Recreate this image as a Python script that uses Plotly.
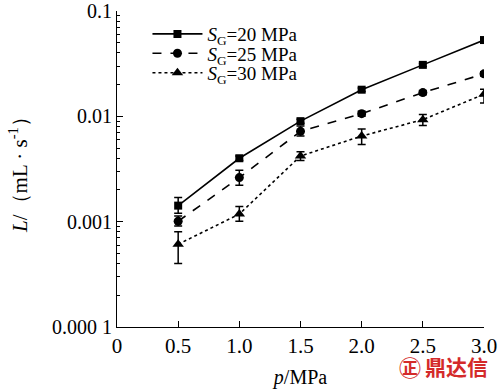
import plotly.graph_objects as go

p = [0.5, 1.0, 1.5, 2.0, 2.5, 3.0]

L_20 = [0.00142, 0.0040, 0.0090, 0.0179, 0.0308, 0.053]
err_20_plus = [0.00028, 0.0002, 0.0004, 0.0007, 0.0010, 0.0015]
err_20_minus = [0.00022, 0.0002, 0.0004, 0.0007, 0.0010, 0.0015]

L_25 = [0.00101, 0.00262, 0.0072, 0.0106, 0.0168, 0.0253]
err_25_plus = [0.00012, 0.00045, 0.0009, 0.0006, 0.0008, 0.0012]
err_25_minus = [0.00010, 0.00040, 0.0007, 0.0006, 0.0008, 0.0012]

L_30 = [0.00061, 0.00118, 0.0042, 0.0065, 0.0093, 0.0162]
err_30_plus = [0.00019, 0.00021, 0.0004, 0.0011, 0.0011, 0.0019]
err_30_minus = [0.00021, 0.00017, 0.0004, 0.0011, 0.0011, 0.0028]

names = ["<i>S</i><sub>G</sub>=20 MPa", "<i>S</i><sub>G</sub>=25 MPa", "<i>S</i><sub>G</sub>=30 MPa"]

x_tickvals = [0, 0.5, 1.0, 1.5, 2.0, 2.5, 3.0]
x_ticktext = ["0", "0.5", "1.0", "1.5", "2.0", "2.5", "3.0"]
y_tickvals = [0.0001, 0.001, 0.01, 0.1]
y_ticktext = ["0.000 1", "0.001", "0.01", "0.1"]
y_minor = [m * d for d in (0.0001, 0.001, 0.01) for m in range(2, 10)]

FONT = "Liberation Serif, Times New Roman, serif"

series = [
    (L_20, err_20_plus, err_20_minus, "square", "solid", 8),
    (L_25, err_25_plus, err_25_minus, "circle", "dash", 9),
    (L_30, err_30_plus, err_30_minus, "triangle-up", "dot", 10),
]
legend_ids = ["legend", "legend2", "legend3"]
legend_y = [0.927, 0.866, 0.804]

fig = go.Figure()
for (vals, ep, em, sym, dash, ms), nm, lid in zip(series, names, legend_ids):
    fig.add_trace(go.Scatter(
        x=p, y=vals, name=nm, mode="lines+markers", legend=lid,
        line=dict(color="black", width=1.6, dash=dash),
        marker=dict(symbol=sym, size=ms, color="black"),
        error_y=dict(type="data", symmetric=False, array=ep, arrayminus=em,
                     color="black", thickness=1.5, width=4),
    ))

legend_style = dict(x=0.083, xanchor="left", yanchor="middle",
                    bgcolor="rgba(0,0,0,0)", font=dict(family=FONT, size=19),
                    itemwidth=50)

fig.update_layout(
    width=501, height=389,
    margin=dict(l=117, r=17, t=11, b=62, autoexpand=False),
    paper_bgcolor="white", plot_bgcolor="white",
    font=dict(family=FONT, size=18, color="black"),
    showlegend=True,
    legend=dict(y=legend_y[0], **legend_style),
    legend2=dict(y=legend_y[1], **legend_style),
    legend3=dict(y=legend_y[2], **legend_style),
)

fig.update_xaxes(
    range=[0, 3.0], tickvals=x_tickvals, ticktext=x_ticktext,
    ticks="inside", ticklen=6, tickwidth=1, tickcolor="black",
    showline=True, linecolor="black", linewidth=1.2, mirror=False,
    showgrid=False, zeroline=False, automargin=False,
    ticklabeloverflow="allow",
    tickfont=dict(family=FONT, size=21),
    title=dict(text="<i>p</i>/MPa", font=dict(family=FONT, size=20), standoff=13),
)

fig.update_yaxes(
    type="log", range=[-4, -1], tickvals=y_tickvals, ticktext=y_ticktext,
    ticks="inside", ticklen=6, tickwidth=1, tickcolor="black",
    minor=dict(tickvals=y_minor, ticks="inside", ticklen=3, tickwidth=1,
               tickcolor="black", showgrid=False),
    showline=True, linecolor="black", linewidth=1.2, mirror=False,
    showgrid=False, zeroline=False, automargin=False,
    ticklabeloverflow="allow",
    tickfont=dict(family=FONT, size=20),
    title=dict(text="<i>L</i>/（mL · s<sup>-1</sup>）", font=dict(family=FONT, size=21), standoff=18),
)

fig.add_annotation(
    xref="paper", yref="paper", x=1.0155, y=-0.124, xanchor="right", yanchor="middle",
    text="<b>鼎达信</b>", showarrow=False,
    font=dict(family="Noto Sans CJK SC", size=21, color="#d42a2a"),
)
fig.add_annotation(
    xref="paper", yref="paper", x=0.798, y=-0.124, xanchor="center", yanchor="middle",
    text="<b>㊣</b>", showarrow=False,
    font=dict(family="Noto Sans CJK SC", size=22, color="#d42a2a"),
)

fig.write_html("out.html", config={"displayModeBar": False},
               post_script="document.body.style.margin='0';document.body.style.overflow='hidden';")
